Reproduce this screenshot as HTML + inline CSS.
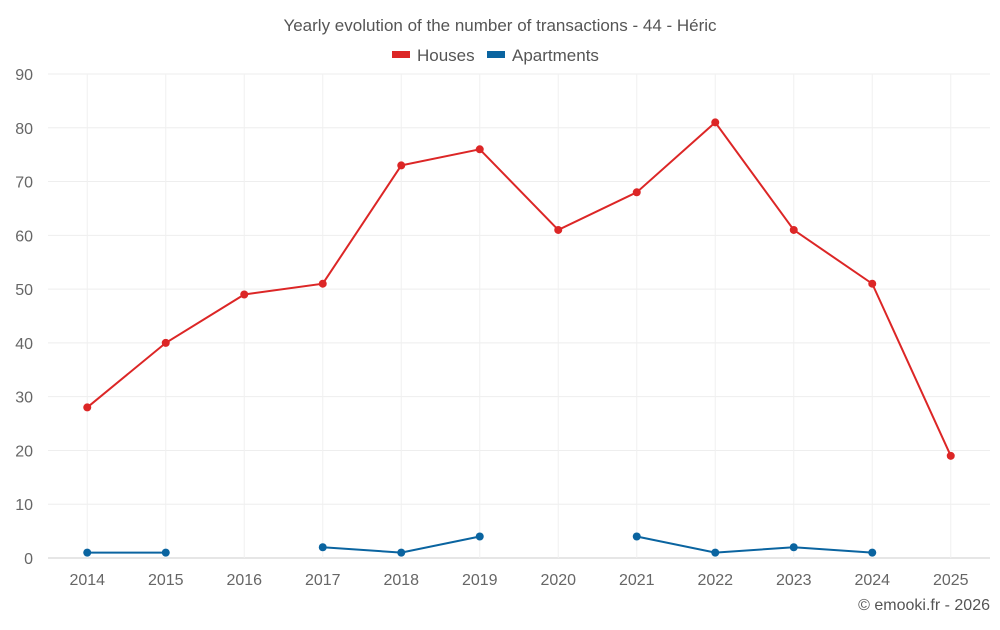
<!DOCTYPE html>
<html><head><meta charset="utf-8"><style>
body{margin:0;background:#fff;font-family:"Liberation Sans",sans-serif}
svg text{font-family:"Liberation Sans",sans-serif}
</style></head><body>
<svg id="c" width="1000" height="625">
<text x="500" y="31" text-anchor="middle" font-size="17" fill="#555">Yearly evolution of the number of transactions - 44 - Héric</text>
<g>
<g><rect x="392" y="51" width="18" height="7" fill="#dc2626"/><text x="417" y="61" font-size="17" fill="#555">Houses</text></g>
<g><rect x="487" y="51" width="18" height="7" fill="#0a64a0"/><text x="512" y="61" font-size="17" fill="#555">Apartments</text></g>
</g>
<g id="grid"></g><g id="axes"></g><g id="series"></g>
<text x="990" y="610" text-anchor="end" font-size="16" fill="#555">© emooki.fr - 2026</text>
</svg>
<script>
const years=["2014","2015","2016","2017","2018","2019","2020","2021","2022","2023","2024","2025"];
const houses=[28,40,49,51,73,76,61,68,81,61,51,19];
const apartments=[1,1,null,2,1,4,null,4,1,2,1,null];
const yTicks=[0,10,20,30,40,50,60,70,80,90];
const NS="http://www.w3.org/2000/svg";
const L=48,R=990,T=74,B=558,yMax=90;
const bw=(R-L)/years.length;
const x=i=>L+bw*(i+0.5);
const y=v=>B-(v/yMax)*(B-T);
function mk(t,a,p){const e=document.createElementNS(NS,t);for(const k in a)e.setAttribute(k,a[k]);p.appendChild(e);return e;}
const g=document.getElementById('grid'),ax=document.getElementById('axes'),s=document.getElementById('series');
yTicks.forEach(v=>{
 const l=mk('line',{x1:L,x2:R,y1:y(v),y2:y(v),stroke:v?'#eee':'#ccc'},g);
 
 
 const t=mk('text',{x:33,y:y(v)+6,'text-anchor':'end','font-size':16,fill:'#666'},ax);t.textContent=v;
 
 
});
years.forEach((yr,i)=>{
 const l=mk('line',{x1:x(i),x2:x(i),y1:T,y2:B,stroke:'#f0f0f0'},g);
 
 
 const t=mk('text',{x:x(i),y:585,'text-anchor':'middle','font-size':16,fill:'#666'},ax);t.textContent=yr;
 
 
});
function draw(data,color,name){
 let d='',pen=false;
 data.forEach((v,i)=>{if(v==null){pen=false;return;}d+=(pen?'L':'M')+x(i)+' '+y(v)+' ';pen=true;});
 const p=mk('path',{d:d,fill:'none',stroke:color,'stroke-width':2},s);
 
 
 data.forEach((v,i)=>{if(v==null)return;
  const c=mk('circle',{cx:x(i),cy:y(v),r:4,fill:color},s);
  
  
 });
}
draw(houses,'#dc2626','houses');
draw(apartments,'#0a64a0','apartments');
</script>
</body></html>
